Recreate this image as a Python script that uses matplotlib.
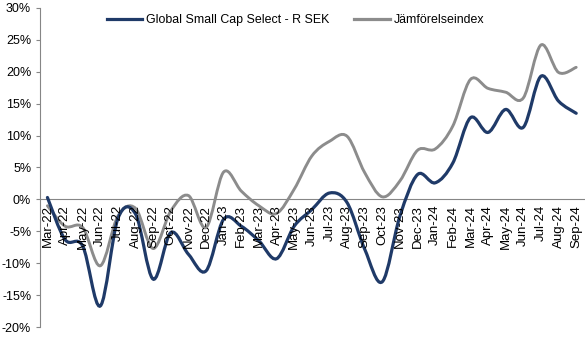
import numpy as np
import matplotlib
matplotlib.use("Agg")
from matplotlib import pyplot as plt
from matplotlib.path import Path
from matplotlib.patches import PathPatch
from matplotlib.lines import Line2D
from matplotlib.ticker import FuncFormatter

months = ["Mar-22", "Apr-22", "May-22", "Jun-22", "Jul-22", "Aug-22", "Sep-22", "Oct-22",
          "Nov-22", "Dec-22", "Jan-23", "Feb-23", "Mar-23", "Apr-23", "May-23", "Jun-23",
          "Jul-23", "Aug-23", "Sep-23", "Oct-23", "Nov-23", "Dec-23", "Jan-24", "Feb-24",
          "Mar-24", "Apr-24", "May-24", "Jun-24", "Jul-24", "Aug-24", "Sep-24"]

fund = [0.3, -6.3, -7.3, -16.7, -3.0, -2.3, -12.5, -5.2, -8.6, -11.2, -3.1,
        -4.2, -6.5, -9.3, -4.2, -1.6, 1.0, -0.5, -7.8, -12.9, -2.6, 3.9,
        2.6, 5.7, 12.8, 10.5, 14.1, 11.3, 19.3, 15.4, 13.5]

index = [-1.0, -4.2, -4.4, -10.4, -2.6, -1.4, -7.7, -1.8, 0.6, -4.4, 4.3,
         1.3, -1.0, -2.2, 1.6, 6.8, 9.1, 9.9, 4.2, 0.4, 2.9, 7.7,
         7.9, 11.5, 18.8, 17.4, 16.8, 15.9, 24.2, 19.9, 20.7]

fund_label = "Global Small Cap Select - R SEK"
index_label = "Jämförelseindex"

blue = "#1f3a68"
grey = "#8c8c8c"

plt.rcParams["font.family"] = ["Liberation Sans", "DejaVu Sans"]


def smooth_path(y):
    # excel-style smoothed line: cubic bezier through every point
    x = np.arange(len(y), dtype=float)
    y = np.asarray(y, dtype=float)
    p = np.column_stack([x, y])
    pts = [p[0]]
    codes = [Path.MOVETO]
    n = len(p)
    for i in range(n - 1):
        p0 = p[max(i - 1, 0)]
        p1 = p[i]
        p2 = p[i + 1]
        p3 = p[min(i + 2, n - 1)]
        c1 = p1 + (p2 - p0) / 6.0
        c2 = p2 - (p3 - p1) / 6.0
        pts += [c1, c2, p2]
        codes += [Path.CURVE4] * 3
    return Path(pts, codes)


fig = plt.figure(figsize=(5.85, 3.42), dpi=100)
ax = fig.add_axes([39.5 / 585, 15 / 342, 545.5 / 585, 319 / 342])

# x labels hang below the zero line
ax.spines["bottom"].set_position(("data", 0))

ax.add_patch(PathPatch(smooth_path(index), fill=False, edgecolor=grey, lw=2.1, capstyle="round"))
ax.add_patch(PathPatch(smooth_path(fund), fill=False, edgecolor=blue, lw=2.3, capstyle="round"))

ax.set_xlim(-0.45, len(months) - 0.5)
ax.set_ylim(-20, 30)
ax.set_yticks(np.arange(-20, 31, 5))
ax.yaxis.set_major_formatter(FuncFormatter(lambda v, p: f"{v:.0f}%"))

ax.set_xticks(np.arange(len(months)))
ax.set_xticklabels(months)
ax.tick_params(axis="x", length=0, pad=4, labelsize=9.5, labelrotation=90)
ax.tick_params(axis="y", length=3, width=0.8, color="#868686", labelsize=9, pad=3)

for s in ["top", "right", "bottom"]:
    ax.spines[s].set_visible(False)
ax.spines["left"].set_color("#868686")
ax.spines["left"].set_linewidth(0.8)
ax.axhline(0, color="#868686", lw=0.8, zorder=0)

handles = [Line2D([], [], color=blue, lw=2.3), Line2D([], [], color=grey, lw=2.3)]
fig.legend(handles, [fund_label, index_label], loc="center", bbox_to_anchor=(0.505, 1 - 20 / 342),
           ncol=2, frameon=False, fontsize=8.9, handlelength=2.9, handletextpad=0.3,
           columnspacing=2.0)

fig.savefig("out.png", dpi=100)
